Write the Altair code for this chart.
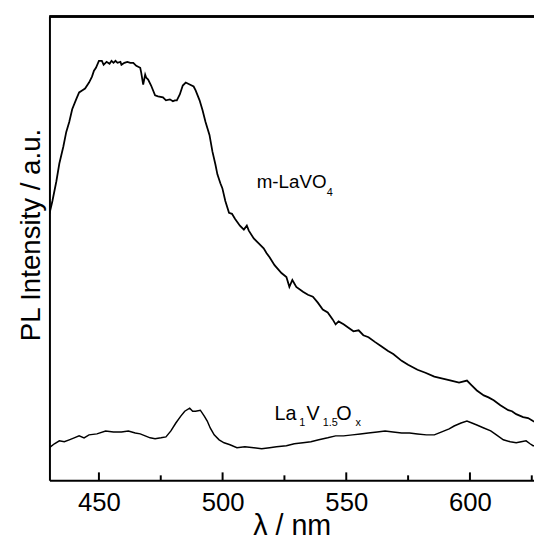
import altair as alt
import pandas as pd

# m-LaVO4 spectrum (wavelength nm, intensity a.u.)
upper_nm = [430.0, 431.2, 432.8, 434.0, 435.6, 436.8, 438.0, 439.2, 440.8, 442.0, 443.2, 444.4, 446.0, 447.2,
            448.0, 448.8, 450.0, 451.2, 451.9, 453.1, 454.3, 455.1, 455.9, 456.7, 457.5, 458.7, 459.1, 460.3,
            461.5, 462.7, 463.9, 465.1, 466.7, 467.1, 467.9, 468.7, 469.1, 469.9, 471.1, 472.7, 473.9, 475.9,
            477.1, 478.7, 479.9, 480.7, 481.5, 482.7, 483.9, 485.1, 486.7, 488.3, 489.1, 490.7, 491.9, 493.1,
            494.7, 495.9, 497.1, 497.9, 499.1, 499.9, 501.1, 502.6, 503.8, 505.0, 507.0, 508.6, 509.8, 510.6,
            512.6, 514.6, 516.6, 517.8, 519.0, 521.0, 523.8, 525.8, 527.0, 528.2, 529.8, 532.5, 534.5, 536.5,
            538.5, 540.5, 542.5, 544.5, 545.7, 546.9, 548.9, 552.9, 555.0, 556.9, 559.0, 561.7, 564.0, 566.9,
            569.0, 572.4, 575.0, 578.8, 582.0, 585.6, 589.0, 592.4, 595.6, 598.8, 600.4, 602.8, 605.6, 607.5,
            609.6, 612.3, 615.5, 617.0, 618.7, 621.5, 623.5, 625.5, 626.5]
upper_val = [270, 283, 303, 321, 338, 353, 363, 376, 386, 393, 395, 397, 403, 409,
             415, 418, 425, 425, 421, 424, 422, 425, 423, 425, 423, 424, 421, 423,
             424, 423, 423, 420, 418, 413, 401, 411, 408, 406, 400, 390, 389, 388,
             385, 386, 384, 385, 385, 391, 400, 403, 401, 399, 395, 385, 375, 363,
             350, 333, 320, 310, 301, 296, 283, 271, 270, 265, 258, 254, 258, 253,
             245, 240, 235, 230, 226, 218, 210, 206, 196, 203, 196, 191, 188, 186,
             180, 173, 170, 163, 158, 161, 158, 151, 152, 147, 145, 140, 136, 131,
             128, 121, 117, 112, 109, 105, 103, 101, 99, 101, 97, 91, 86, 84,
             81, 76, 71, 70, 67, 64, 63, 60, 59]

# La1V1.5Ox spectrum
lower_nm = [430.0, 432.0, 434.0, 436.0, 438.0, 440.0, 442.0, 444.0, 446.0, 449.2, 452.7, 455.9, 459.1, 461.9,
            464.7, 466.7, 468.7, 470.7, 472.7, 475.1, 477.1, 479.1, 481.1, 483.1, 484.7, 486.7, 487.9, 489.1,
            491.0, 492.6, 493.8, 495.0, 496.6, 498.6, 500.6, 503.0, 505.8, 509.0, 512.6, 515.8, 519.0, 521.8,
            525.8, 529.0, 532.5, 535.7, 538.9, 542.5, 545.7, 548.9, 552.5, 555.7, 558.9, 562.5, 565.7, 568.9,
            572.4, 575.6, 578.8, 582.4, 585.6, 587.6, 589.6, 591.6, 593.6, 596.4, 598.8, 600.8, 602.8, 605.6,
            608.4, 610.7, 613.5, 616.3, 618.7, 620.7, 622.7, 624.3, 625.5, 626.5]
lower_val = [33, 37, 40, 39, 41, 43, 45, 43, 46, 47, 50, 49, 49, 50,
             48, 47, 45, 43, 42, 43, 44, 50, 58, 65, 70, 73, 70, 70,
             71, 65, 60, 53, 46, 41, 38, 36, 33, 34, 33, 32, 33, 34,
             35, 37, 38, 39, 41, 43, 45, 45, 46, 47, 48, 49, 50, 49,
             48, 48, 47, 46, 46, 48, 50, 52, 55, 58, 60, 58, 56, 53,
             50, 46, 41, 39, 38, 39, 40, 37, 35, 35]

tick_major = [450, 500, 550, 600]
tick_minor = [475, 525, 575, 625]

label_text = ["m-LaVO", "4", "La", "1", "V", "1.5", "O", "x"]
label_nm = [513.8, 542.1, 521.0, 531.0, 533.9, 540.5, 546.0, 553.7]
label_val = [296, 288, 61, 55, 61, 55, 61, 55]
label_size = [19, 11, 20, 11, 20, 11, 20, 11]

W, H = 491, 470
XMIN, XMAX = 430, 625.9
FONT = "Liberation Sans"

up = pd.DataFrame({"nm": upper_nm, "v": upper_val})
lo = pd.DataFrame({"nm": lower_nm, "v": lower_val})
labels = pd.DataFrame({"t": label_text, "nm": label_nm, "v": label_val, "s": label_size})
majors = pd.DataFrame({"nm": tick_major})
minors = pd.DataFrame({"nm": tick_minor})

xscale = alt.Scale(domain=[XMIN, XMAX], nice=False, zero=False)
yscale = alt.Scale(domain=[0, 470], nice=False, zero=False)

xaxis = alt.Axis(values=tick_major, ticks=False, tickSize=0, labelPadding=10, labelFontSize=26,
                 labelFont=FONT, labelColor="black", grid=False, domainColor="black", domainWidth=2,
                 title="λ / nm", titleFont=FONT, titleFontSize=29, titleFontWeight="normal",
                 titleColor="black", titleY=32, labelFlush=False)
yaxis = alt.Axis(ticks=False, tickSize=0, labels=False, grid=False, domainColor="black", domainWidth=2,
                 title="PL Intensity / a.u.", titleFont=FONT, titleFontSize=28, titleFontWeight="normal",
                 titleColor="black", titlePadding=4, titleY=221)

line_up = alt.Chart(up).mark_line(color="black", strokeWidth=1.8, clip=True).encode(
    x=alt.X("nm:Q", scale=xscale, axis=xaxis),
    y=alt.Y("v:Q", scale=yscale, axis=yaxis),
)
line_lo = alt.Chart(lo).mark_line(color="black", strokeWidth=1.5, clip=True).encode(
    x=alt.X("nm:Q", scale=xscale),
    y=alt.Y("v:Q", scale=yscale),
)
major_t = alt.Chart(majors).mark_rule(color="black", strokeWidth=2).encode(
    x=alt.X("nm:Q", scale=xscale), y=alt.value(H), y2=alt.value(H - 8))
minor_t = alt.Chart(minors).mark_rule(color="black", strokeWidth=2).encode(
    x=alt.X("nm:Q", scale=xscale), y=alt.value(H), y2=alt.value(H - 5))
top_border = alt.Chart(majors).mark_rule(color="black", strokeWidth=2).encode(
    x=alt.value(0), x2=alt.value(W + 2), y=alt.value(0))
text = alt.Chart(labels).mark_text(align="left", baseline="alphabetic", font=FONT, color="black").encode(
    x=alt.X("nm:Q", scale=xscale), y=alt.Y("v:Q", scale=yscale),
    text="t:N", size=alt.Size("s:Q", scale=None, legend=None))

chart = alt.layer(line_up, line_lo, major_t, minor_t, top_border, text).properties(
    width=W, height=H,
    autosize=alt.AutoSizeParams(type="none"),
    padding={"left": 42, "top": 5, "right": 0, "bottom": 60},
).configure_view(stroke=None)

chart.save("out.html", embed_options={"renderer": "svg", "actions": False})
